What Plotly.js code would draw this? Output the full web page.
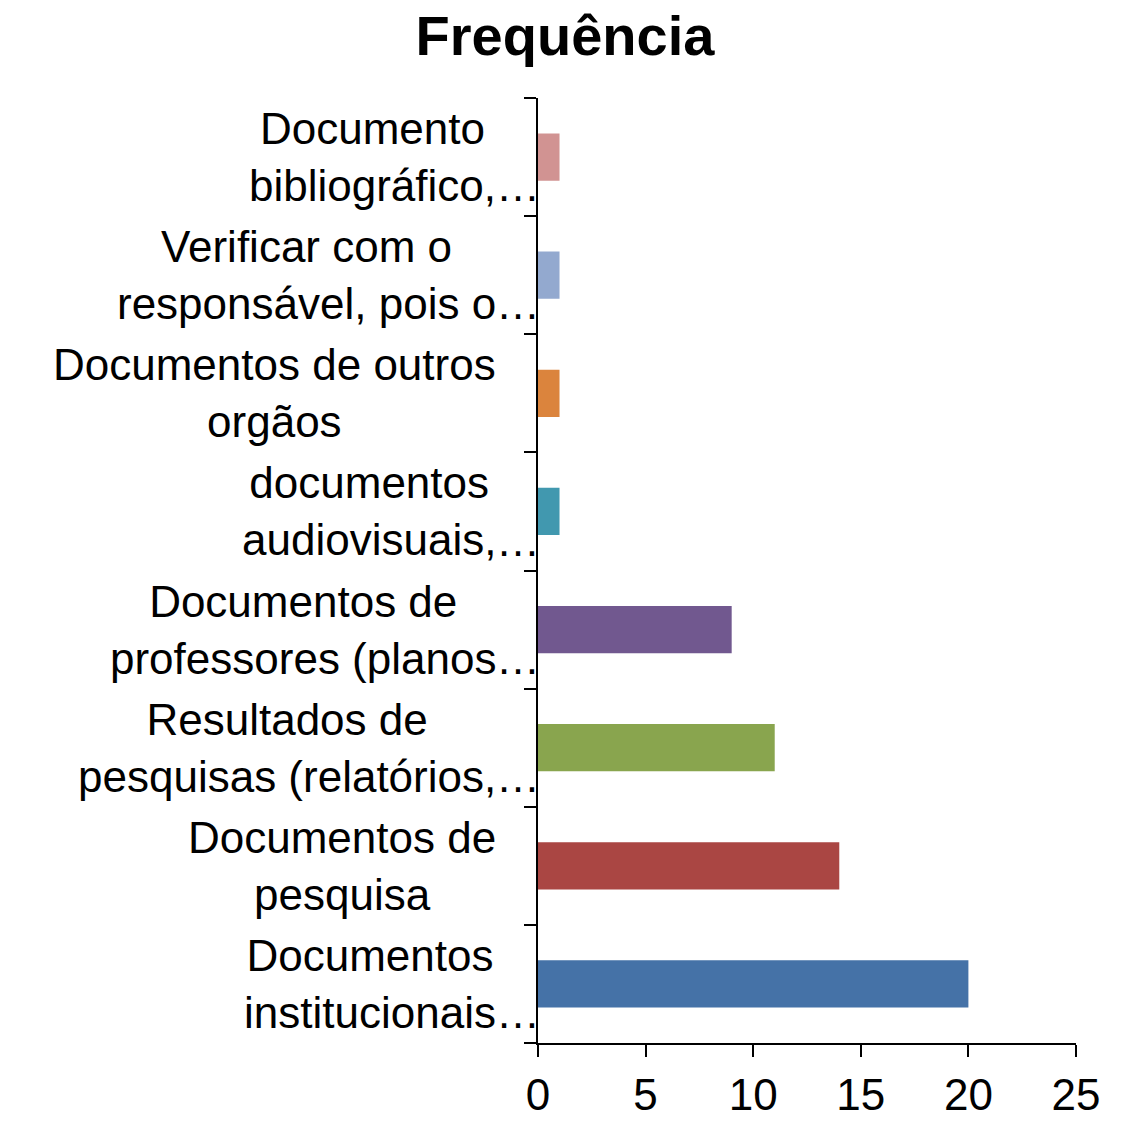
<!DOCTYPE html>
<html>
<head>
<meta charset="utf-8">
<script src="https://cdn.plot.ly/plotly-3.0.1.min.js"></script>
<style>html,body{margin:0;padding:0;background:#fff;}#chart{width:1121px;height:1121px;}</style>
</head>
<body>
<div id="chart"></div>
<script>
// Categories listed bottom to top
const categories = [
  "Documentos<br>institucionais…",
  "Documentos de<br>pesquisa",
  "Resultados de<br>pesquisas (relatórios,…",
  "Documentos de<br>professores (planos…",
  "documentos<br>audiovisuais,…",
  "Documentos de outros<br>orgãos",
  "Verificar com o<br>responsável, pois o…",
  "Documento<br>bibliográfico,…"
];
const frequencia = [20, 14, 11, 9, 1, 1, 1, 1];
const barColors = ["#4572A7", "#AA4643", "#89A54E", "#71588F", "#4198AF", "#DB843D", "#93A9CF", "#D19392"];
const xTicks = [0, 5, 10, 15, 20, 25];
const chartTitle = "Frequência";

const FONT = "Liberation Sans, Arial, sans-serif";
const LABEL_SIZE = 44;
const LINE_H = LABEL_SIZE * 1.3;
const LABEL_RIGHT = -42;

const annotations = [];
categories.forEach(function (c) {
  const truncated = c.endsWith("…");
  const main = truncated ? c.slice(0, -1) : c;
  annotations.push({
    xref: "paper", yref: "y", x: 0, y: c,
    xanchor: "right", yanchor: "middle", xshift: LABEL_RIGHT,
    text: main, showarrow: false, align: "center",
    borderpad: 0, borderwidth: 0,
    font: {family: FONT, size: LABEL_SIZE, color: "#000"}
  });
  if (truncated) {
    annotations.push({
      xref: "paper", yref: "y", x: 0, y: c,
      xanchor: "left", yanchor: "middle", xshift: LABEL_RIGHT, yshift: -LINE_H / 2,
      text: "…", showarrow: false, borderpad: 0, borderwidth: 0,
      font: {family: FONT, size: LABEL_SIZE, color: "#000"}
    });
  }
});

const data = [{
  type: "bar",
  orientation: "h",
  x: frequencia,
  y: categories,
  marker: {color: barColors},
  hoverinfo: "x+y"
}];

const layout = {
  width: 1121, height: 1121,
  margin: {l: 538, r: 45, t: 98, b: 78},
  paper_bgcolor: "#fff", plot_bgcolor: "#fff",
  showlegend: false,
  bargap: 0.6,
  title: {
    text: "<b>" + chartTitle + "</b>",
    xref: "container", yref: "container",
    x: 0.504, y: 1 - 35 / 1121, xanchor: "center", yanchor: "middle",
    font: {family: FONT, size: 56, color: "#000"}
  },
  xaxis: {
    range: [0, 25], tickvals: xTicks, ticktext: xTicks.map(String),
    showgrid: false, zeroline: false,
    showline: true, linecolor: "#000", linewidth: 2,
    ticks: "outside", ticklen: 12, tickwidth: 2, tickcolor: "#000",
    tickfont: {family: FONT, size: 44, color: "#000"}
  },
  yaxis: {
    type: "category", showticklabels: false,
    showgrid: false, zeroline: false,
    showline: true, linecolor: "#000", linewidth: 2,
    ticks: "outside", tickson: "boundaries", ticklen: 12, tickwidth: 2, tickcolor: "#000"
  },
  annotations: annotations
};

Plotly.newPlot("chart", data, layout, {displayModeBar: false, staticPlot: true});
</script>
</body>
</html>
